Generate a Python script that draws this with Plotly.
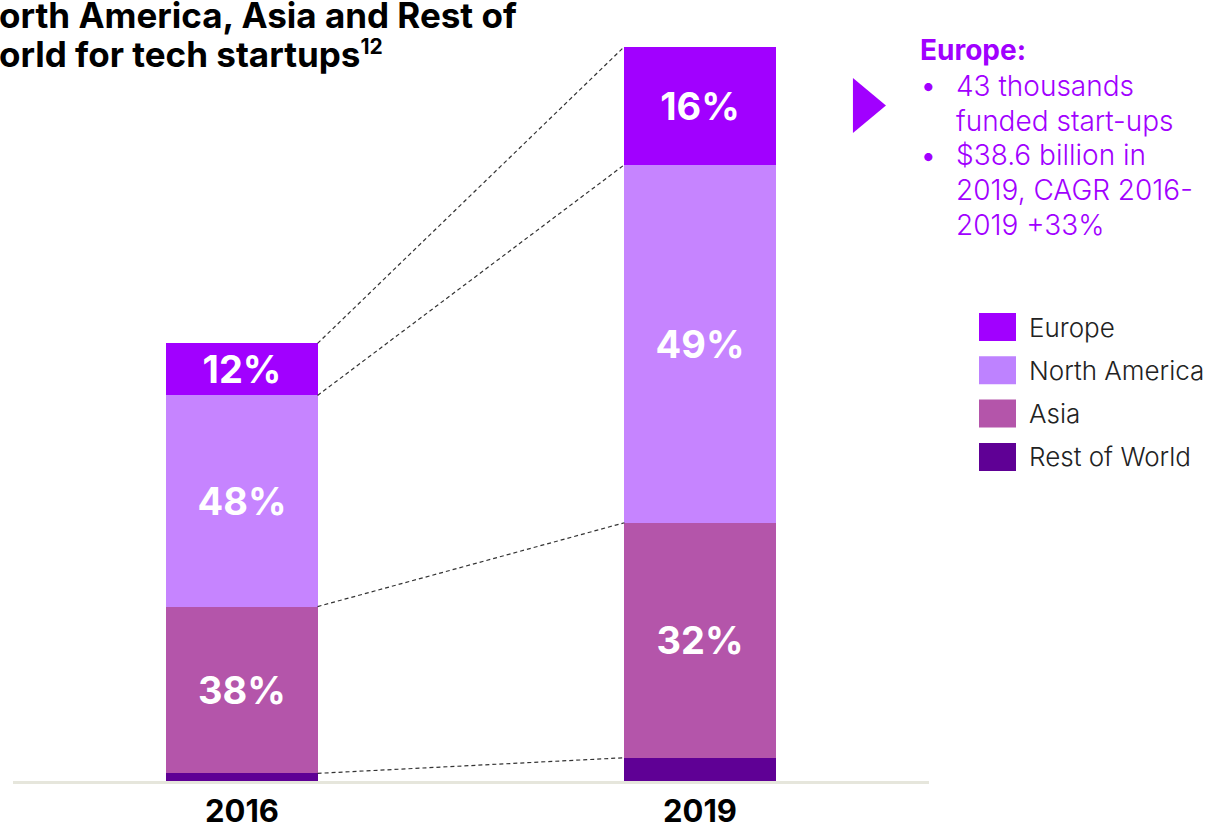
import plotly.graph_objects as go

# Funding of tech start-ups by region, $ billion
years = ["2016", "2019"]
regions = ["Rest of World", "Asia", "North America", "Europe"]
rest_of_world = [2.5, 7.6]
asia = [54.5, 76.8]
north_america = [69.0, 117.0]
europe = [17.0, 38.6]

colors = {
    "Europe": "#a100ff",
    "North America": "#c684ff",
    "Asia": "#b455aa",
    "Rest of World": "#5f0095",
}
legend_colors = {
    "Europe": "#a100ff",
    "North America": "#be82ff",
    "Asia": "#b455aa",
    "Rest of World": "#5f0095",
}

title_lines = [
    "orth America, Asia and Rest of",
    "orld for tech startups<span style='font-size:30px'><sup>12</sup></span>",
]
callout_title = "Europe:"
callout_lines = ["43 thousands", "funded start-ups", "$38.6 billion in", "2019, CAGR 2016-", "2019 +33%"]
bullet_on = [True, False, True, False, False]

series = {
    "Rest of World": rest_of_world,
    "Asia": asia,
    "North America": north_america,
    "Europe": europe,
}
totals = [sum(v) for v in zip(*series.values())]

FONT = "Inter"
BAR_W = 0.33
W, H = 1209, 826


def px(x, y):
    # pixel position -> paper coords
    return x / W, 1 - y / H


fig = go.Figure()
for name in regions:
    vals = series[name]
    if name == "Rest of World":
        labels = ["" for _ in vals]
    else:
        labels = [f"{round(v / t * 100)}%" for v, t in zip(vals, totals)]
    fig.add_trace(go.Bar(
        x=years, y=vals, name=name,
        marker=dict(color=colors[name], line=dict(width=0)),
        width=BAR_W,
        text=labels,
        textposition="inside",
        insidetextanchor="middle",
        constraintext="none",
        textangle=0,
        textfont=dict(family=FONT, size=38, color="white", weight="bold"),
        showlegend=False,
        hoverinfo="x+y+name",
    ))

# totals above bars
for yr, t in zip(years, totals):
    fig.add_annotation(
        x=yr, y=t, text=f"<b>{t:.0f}</b>", showarrow=False,
        yanchor="bottom", yshift=2,
        font=dict(family=FONT, size=28, color="black"),
    )

# dashed connectors between segment boundaries
cum = [0.0, 0.0]
for name in regions:
    cum = [c + v for c, v in zip(cum, series[name])]
    fig.add_shape(
        type="line", xref="x", yref="y",
        x0=0 + BAR_W / 2, x1=1 - BAR_W / 2, y0=cum[0], y1=cum[1],
        line=dict(color="#333333", width=1.2, dash="4px,3px"),
    )

# title (cut at the left edge in the original slide)
for i, line in enumerate(title_lines):
    x, y = px(0, 15 + i * 39)
    fig.add_annotation(
        xref="paper", yref="paper", x=x, y=y, xanchor="left", yanchor="middle",
        xshift=-3, align="left", showarrow=False,
        text=f"<b>{line}</b>",
        font=dict(family=FONT, size=35, color="black"),
    )

# callout on the right
fig.add_shape(
    type="path", xref="paper", yref="paper",
    path="M 0.7055 0.9056 L 0.7328 0.8723 L 0.7055 0.839 Z",
    fillcolor="#a100ff", line=dict(width=0),
)
x, y = px(918, 50)
fig.add_annotation(
    xref="paper", yref="paper", x=x, y=y, xanchor="left", yanchor="middle",
    text=f"<b>{callout_title}</b>", showarrow=False,
    font=dict(family=FONT, size=28, color="#a100ff"),
)
for i, (line, bul) in enumerate(zip(callout_lines, bullet_on)):
    yc = 86 + i * 34.7
    x, y = px(954, yc)
    fig.add_annotation(
        xref="paper", yref="paper", x=x, y=y, xanchor="left", yanchor="middle",
        text=line, showarrow=False, align="left",
        font=dict(family=FONT, size=28, color="#a100ff", weight=300),
    )
    if bul:
        x, y = px(919, yc)
        fig.add_annotation(
            xref="paper", yref="paper", x=x, y=y, xanchor="left", yanchor="middle",
            text="•", showarrow=False,
            font=dict(family=FONT, size=26, color="#a100ff"),
        )

# legend drawn as big swatches
for i, name in enumerate(reversed(regions)):
    yc = 327 + i * 43.3
    fig.add_shape(
        type="rect", xref="paper", yref="paper",
        x0=979 / W, x1=1016 / W,
        y0=1 - (yc + 14) / H, y1=1 - (yc - 14) / H,
        fillcolor=legend_colors[name], line=dict(width=0),
    )
    x, y = px(1027, yc)
    fig.add_annotation(
        xref="paper", yref="paper", x=x, y=y,
        xanchor="left", yanchor="middle", text=name, showarrow=False,
        font=dict(family=FONT, size=26, color="#222222", weight=300),
    )

fig.update_layout(
    barmode="stack",
    width=W, height=H,
    margin=dict(l=0, r=0, t=0, b=0, autoexpand=False),
    paper_bgcolor="white",
    plot_bgcolor="white",
    showlegend=False,
    font=dict(family=FONT, color="black"),
    xaxis=dict(
        domain=[13 / W, 929 / W],
        type="category", range=[-0.5, 1.5],
        showline=True, linecolor="#e6e6dc", linewidth=3,
        showgrid=False, zeroline=False, ticks="",
        tickfont=dict(family=FONT, size=31, color="black", weight="bold"),
        ticklabelstandoff=1,
        automargin=False,
        fixedrange=True,
    ),
    yaxis=dict(
        domain=[1 - 781 / H, 1 - 16 / H],
        range=[0, 250],
        visible=False, fixedrange=True, automargin=False,
    ),
)

# the page's default 8px body margin would shift the figure
fig.write_html(
    "out.html",
    config={"displayModeBar": False},
    post_script="document.body.style.margin='0';",
)
